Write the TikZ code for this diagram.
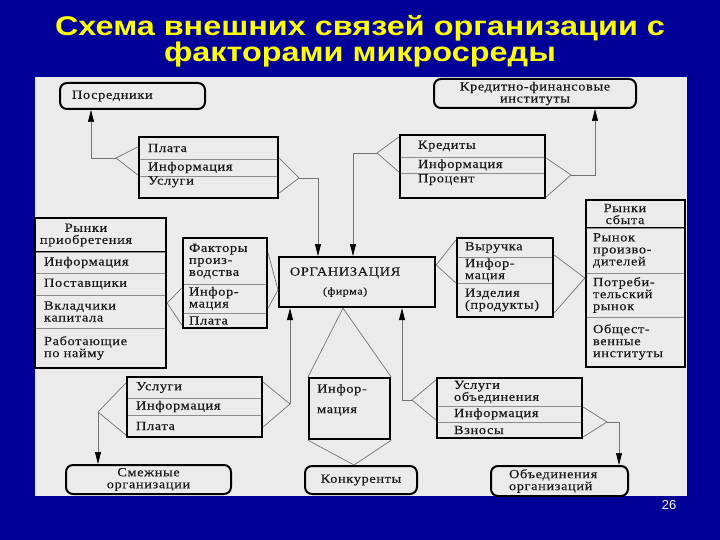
\documentclass[tikz,border=0pt]{standalone}
\usepackage{fontspec}
\setmainfont{Liberation Serif}[FakeStretch=1.15,LetterSpace=5,FakeBold=0.3]
\newfontfamily\titlefont{Liberation Sans}[FakeStretch=1.2]
\newfontfamily\numfont{Liberation Sans}
\usepackage{xcolor}
\definecolor{slideBlue}{HTML}{000099}
\definecolor{slideYellow}{HTML}{FFFF00}
\definecolor{panelGray}{HTML}{EBEBEB}
\usepackage{tikz}
\usetikzlibrary{arrows.meta,positioning,fit}

\begin{document}
\begin{tikzpicture}[x=1pt, y=-1pt, >={Triangle[length=12pt,width=6pt,color=black]},
  every node/.style={font=\fontsize{12.5}{12}\selectfont, text=black!90},
  title/.style={anchor=base, text=slideYellow, font=\titlefont\fontsize{27}{28}\selectfont\bfseries},
  cell/.style 2 args={draw=black!45, line width=0.7pt, outer sep=0pt, inner ysep=0pt,
    inner xsep=#2, text width=#1, align=left},
  hdr/.style={draw=black, line width=2pt, align=center},
  frame/.style={draw=black, line width=2.2pt, inner sep=0pt},
  box/.style={draw=black, line width=2.2pt, anchor=north west, inner ysep=0pt},
  oval/.style={draw=black, line width=2pt, rounded corners=7pt, anchor=north west, inner ysep=0pt},
  link/.style={draw=black!55, line width=0.7pt}]
  \useasboundingbox (0,0) rectangle (720,540);
  \fill[slideBlue] (0,0) rectangle (720,540);
  \fill[panelGray] (35,77) rectangle (687,496);              % the slide picture
  % ---- title ----
  \node[title] (ttl1) at (360,36) {Схема внешних связей организации с};
  \node[title] (ttl2) at (360,62) {факторами микросреды};
  \node[font=\numfont\fontsize{13}{13}\selectfont, text=white, anchor=base] (pnum) at (669,509) {26};

  % ---- partners (rounded) ----
  \node[oval, minimum width=145pt, minimum height=26pt, text width=121pt, inner xsep=12pt, align=left] (posr) at (59,82) {Посредники};
  \node[oval, minimum width=202pt, minimum height=29pt, align=center] (kfi) at (433,78) {Кредитно-финансовые\\институты};
  \node[oval, minimum width=165pt, minimum height=29pt, align=center] (smezh) at (65,464) {Смежные\\организации};
  \node[oval, minimum width=112pt, minimum height=28pt] (konk) at (304,465) {Конкуренты};
  \node[oval, minimum width=137pt, minimum height=30pt, text width=101pt, inner xsep=18pt, align=left] (obed) at (490,465) {Объединения\\организаций};

  % ---- the firm and its information ----
  \node[box, minimum width=156pt, minimum height=50pt, align=center] (org) at (278,256)
    {ОРГАНИЗАЦИЯ\hspace*{24pt}\\[7pt]{\fontsize{10.5}{11}\selectfont(фирма)}\hspace*{24pt}};
  \node[box, minimum width=81pt, minimum height=61pt, text width=65pt, inner xsep=8pt, align=left, text depth=40.5pt] (infc) at (308,377) {Инфор-\\[8.5pt]мация};

  % ---- flow tables ----
  \node[cell={121pt}{9pt}, minimum height=22pt, anchor=north west] (plata1) at (139,137) {Плата};
  \node[cell={121pt}{9pt}, minimum height=17pt, below=0pt of plata1] (plata2) {Информация};
  \node[cell={121pt}{9pt}, minimum height=22pt, text depth=13pt, below=0pt of plata2] (plata3) {Услуги};
  \node[frame, fit=(plata1)(plata3)] (plata) {};

  \node[cell={109pt}{18pt}, minimum height=22pt, anchor=north west] (kred1) at (400,135) {Кредиты};
  \node[cell={109pt}{18pt}, minimum height=16pt, below=0pt of kred1] (kred2) {Информация};
  \node[cell={109pt}{18pt}, minimum height=25pt, text depth=14.5pt, below=0pt of kred2] (kred3) {Процент};
  \node[frame, fit=(kred1)(kred3)] (kred) {};

  \node[cell={123pt}{4pt}, hdr, minimum height=34pt, anchor=north west] (rpr0) at (35,218) {Рынки\hspace*{29pt}\mbox{}\\приобретения\hspace*{29pt}\mbox{}};
  \node[cell={113pt}{9pt}, minimum height=21pt, below=0pt of rpr0] (rpr1) {Информация};
  \node[cell={113pt}{9pt}, minimum height=22pt, below=0pt of rpr1] (rpr2) {Поставщики};
  \node[cell={113pt}{9pt}, minimum height=33pt, below=0pt of rpr2] (rpr3) {Вкладчики\\капитала};
  \node[cell={113pt}{9pt}, minimum height=40pt, below=0pt of rpr3] (rpr4) {Работающие\\по найму};
  \node[frame, fit=(rpr0)(rpr4)] (rpr) {};

  \node[cell={72pt}{6pt}, minimum height=46pt, anchor=north west] (fakt1) at (183,238) {Факторы\\произ-\\водства};
  \node[cell={72pt}{6pt}, minimum height=29pt, below=0pt of fakt1] (fakt2) {Инфор-\\мация};
  \node[cell={72pt}{6pt}, minimum height=15pt, below=0pt of fakt2] (fakt3) {Плата};
  \node[frame, fit=(fakt1)(fakt3)] (fakt) {};

  \node[cell={80pt}{8pt}, minimum height=19pt, anchor=north west] (vyr1) at (457,238) {Выручка};
  \node[cell={80pt}{8pt}, minimum height=26pt, below=0pt of vyr1] (vyr2) {Инфор-\\мация};
  \node[cell={80pt}{8pt}, minimum height=34pt, below=0pt of vyr2] (vyr3) {Изделия\\(продукты)};
  \node[frame, fit=(vyr1)(vyr3)] (vyr) {};

  \node[cell={91pt}{4pt}, hdr, minimum height=28pt, anchor=north west] (rsb0) at (586,200) {Рынки\hspace*{21pt}\mbox{}\\сбыта\hspace*{21pt}\mbox{}};
  \node[cell={85pt}{7pt}, minimum height=45pt, below=0pt of rsb0] (rsb1) {Рынок\\произво-\\дителей};
  \node[cell={85pt}{7pt}, minimum height=44pt, below=0pt of rsb1] (rsb2) {Потреби-\\тельский\\рынок};
  \node[cell={85pt}{7pt}, minimum height=50pt, below=0pt of rsb2] (rsb3) {Общест-\\венные\\институты};
  \node[frame, fit=(rsb0)(rsb3)] (rsb) {};

  \node[cell={117pt}{9pt}, minimum height=21pt, anchor=north west] (usl1) at (127,377) {Услуги};
  \node[cell={117pt}{9pt}, minimum height=17pt, below=0pt of usl1] (usl2) {Информация};
  \node[cell={117pt}{9pt}, minimum height=22pt, below=0pt of usl2] (usl3) {Плата};
  \node[frame, fit=(usl1)(usl3)] (usl) {};

  \node[cell={111pt}{17pt}, minimum height=28pt, anchor=north west] (uob1) at (437,378) {Услуги\\объединения};
  \node[cell={111pt}{17pt}, minimum height=16pt, below=0pt of uob1] (uob2) {Информация};
  \node[cell={111pt}{17pt}, minimum height=16pt, below=0pt of uob2] (uob3) {Взносы};
  \node[frame, fit=(uob1)(uob3)] (uob) {};

  % ---- links: forks meet at these points ----
  \coordinate (plaL) at (116,158);
  \coordinate (plaR) at (299,178);
  \coordinate (kreL) at (377,153);
  \coordinate (kreR) at (571,175);
  \coordinate (uslL) at (98,412);
  \coordinate (uslR) at (290,404);
  \coordinate (uobL) at (412,400);
  \coordinate (uobR) at (607,422);
  % top
  \draw[link] (plata.west |- 0,147) -- (plaL) -- (plata.west |- 0,175);
  \draw[link,->] (plaL) -| (posr.south -| 91,0);
  \draw[link] (plata.east |- 0,158) -- (plaR) -- (plata.east |- 0,193);
  \draw[link,->] (plaR) -| (org.north -| 318,0);
  \draw[link] (kred.west |- 0,137) -- (kreL) -- (kred.west |- 0,172);
  \draw[link,->] (kreL) -| (org.north -| 353,0);
  \draw[link] (kred.east |- 0,158) -- (kreR) -- (kred.east |- 0,197);
  \draw[link,->] (kreR) -| (kfi.south -| 595,0);
  % left and right
  \draw[link] (fakt.west |- 0,288) -- (rpr.east |- 0,303) -- (fakt.west |- 0,325);
  \draw[link] (fakt.east |- 0,253) -- (org.west |- 0,290) -- (fakt.east |- 0,308);
  \draw[link] (vyr.west |- 0,240) -- (org.east |- 0,265) -- (vyr.west |- 0,283);
  \draw[link] (vyr.east |- 0,255) -- (rsb.west |- 0,278) -- (vyr.east |- 0,313);
  % bottom
  \draw[link] (infc.north west) -- (org.south -| 343,0) -- (infc.north east);
  \draw[link] (infc.south west) -- (konk.north -| 354,0) -- (infc.south east);
  \draw[link] (usl.west |- 0,383) -- (uslL) -- (usl.west |- 0,435);
  \draw[link,->] (uslL) -- (smezh.north -| uslL);
  \draw[link] (usl.east |- 0,382) -- (uslR) -- (usl.east |- 0,427);
  \draw[link,->] (uslR) -- (org.south -| uslR);
  \draw[link] (uob.west |- 0,380) -- (uobL) -- (uob.west |- 0,420);
  \draw[link,->] (uobL) -| (org.south -| 402,0);
  \draw[link] (uob.east |- 0,407) -- (uobR) -- (uob.east |- 0,437);
  \draw[link,->] (uobR) -| (obed.north -| 619,0);
\end{tikzpicture}
\end{document}
